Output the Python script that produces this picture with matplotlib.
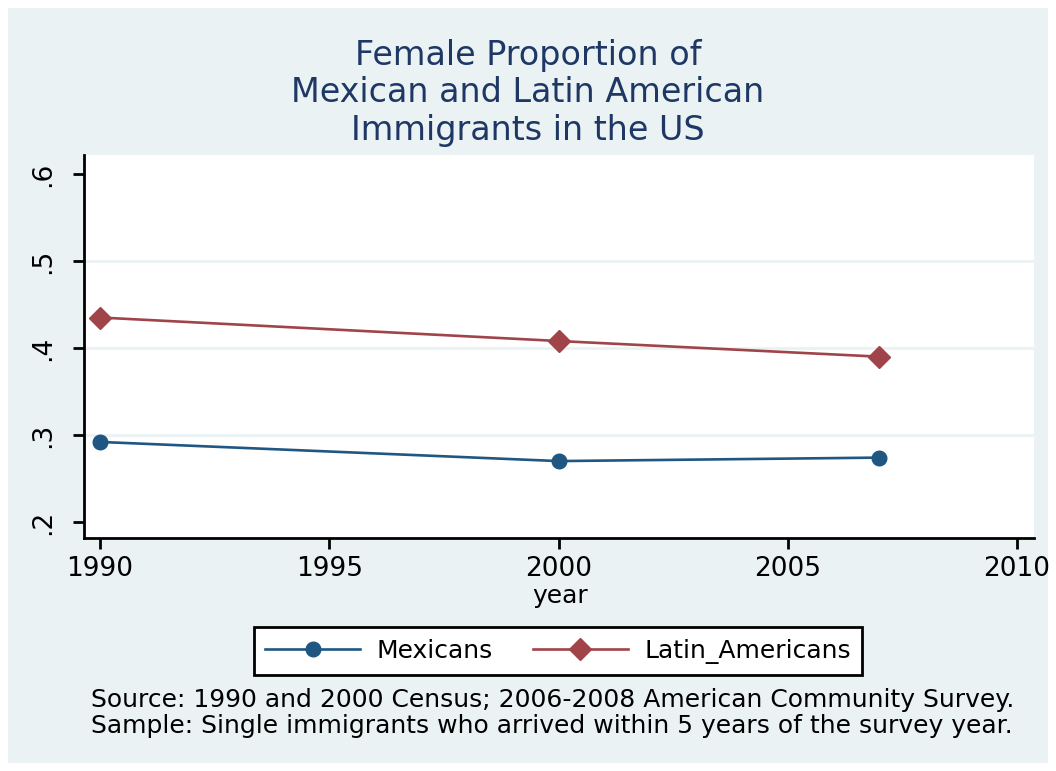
import matplotlib
matplotlib.use("Agg")
import matplotlib.pyplot as plt
from matplotlib.patches import Rectangle

# === Data ===
years = [1990, 2000, 2007]
mexicans = [0.292, 0.270, 0.274]
latin_americans = [0.435, 0.408, 0.390]

x_ticks = [1990, 1995, 2000, 2005, 2010]
y_ticks = [0.2, 0.3, 0.4, 0.5, 0.6]
y_tick_labels = [".2", ".3", ".4", ".5", ".6"]

title_lines = ["Female Proportion of", "Mexican and Latin American", "Immigrants in the US"]
note_lines = ["Source: 1990 and 2000 Census; 2006-2008 American Community Survey.",
              "Sample: Single immigrants who arrived within 5 years of the survey year."]

# === Style ===
BG = "#EAF2F3"
NAVY = "#1F5782"
MAROON = "#A0444A"
TITLE_COLOR = "#1E3764"
plt.rcParams["font.family"] = ["DejaVu Sans"]

W, H = 1056, 771
fig = plt.figure(figsize=(W / 100, H / 100), dpi=100, facecolor="white")
fig.patches.append(Rectangle((8 / W, 8 / H), 1040 / W, 755 / H,
                             transform=fig.transFigure, facecolor=BG,
                             edgecolor="none", zorder=-10))

# plot area in pixel coordinates (left, top, right, bottom)
left, top, right, bottom = 84, 155, 1034, 538
ax = fig.add_axes([left / W, 1 - bottom / H, (right - left) / W, (bottom - top) / H])
ax.set_facecolor("white")

ax.plot(years, mexicans, color=NAVY, lw=1.9, marker="o", ms=10.5,
        label="Mexicans", zorder=3)
ax.plot(years, latin_americans, color=MAROON, lw=1.9, marker="D", ms=11,
        label="Latin_Americans", zorder=3)

ax.set_xlim(1989.65, 2010.37)
ax.set_ylim(0.1816, 0.6218)
ax.set_xticks(x_ticks)
ax.set_yticks(y_ticks)
ax.set_yticklabels(y_tick_labels, rotation=90, va="center")
for yv in y_ticks[1:-1]:
    ax.axhline(yv, color=BG, lw=2, zorder=1)

for side in ["top", "right"]:
    ax.spines[side].set_visible(False)
for side in ["left", "bottom"]:
    ax.spines[side].set_linewidth(2)
ax.tick_params(axis="both", direction="out", length=8, width=2, labelsize=19)
ax.tick_params(axis="x", pad=5)
ax.tick_params(axis="y", pad=12)

fig.text(560 / W, 1 - 596 / H, "year", ha="center", va="center", fontsize=18)

# title, one line at a time
for i, line in enumerate(title_lines):
    fig.text(0.5, 1 - (52 + 37.5 * i) / H, line, ha="center", va="center_baseline",
             fontsize=24, color=TITLE_COLOR)

leg = fig.legend(loc="center", bbox_to_anchor=(558 / W, 1 - 651 / H), ncol=2,
                 fontsize=18, frameon=True, fancybox=False, framealpha=1,
                 handlelength=3.8, columnspacing=1.6, borderpad=0.45,
                 handletextpad=0.65)
leg.get_frame().set_edgecolor("black")
leg.get_frame().set_linewidth(2)

for i, line in enumerate(note_lines):
    fig.text(91 / W, 1 - (698 + 25 * i) / H, line, ha="left", va="center_baseline",
             fontsize=18)

fig.savefig("out.png", dpi=100, facecolor="white")
